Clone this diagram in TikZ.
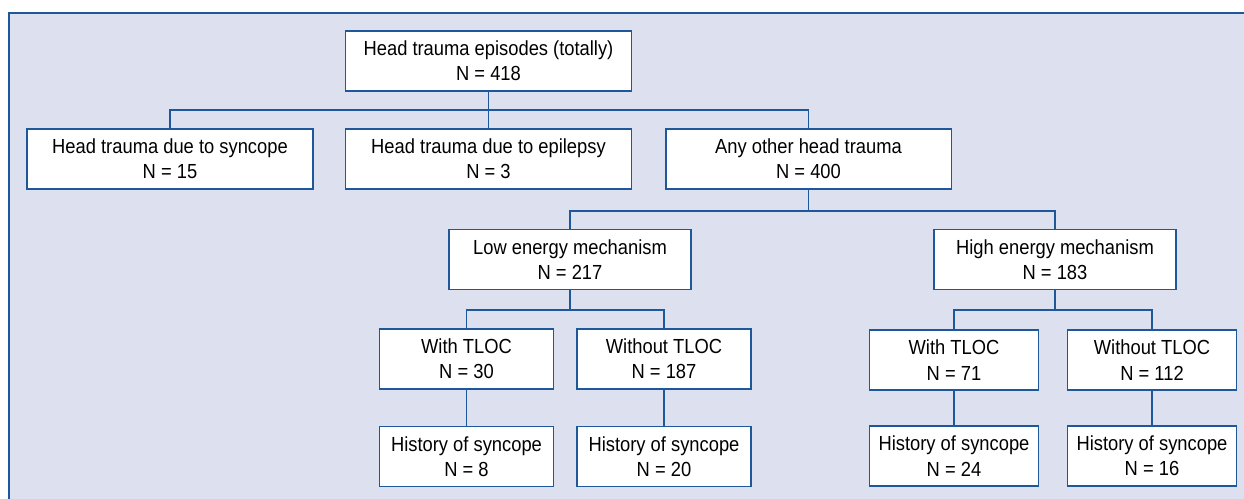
\documentclass[tikz,border=0pt]{standalone}
\usepackage{fontspec}
\setmainfont{Liberation Sans}[FakeStretch=0.9]
\usetikzlibrary{positioning, calc}
\definecolor{flowBlue}{RGB}{30, 88, 155}
\definecolor{flowPanel}{RGB}{221, 224, 239}

\begin{document}
\begin{tikzpicture}[
        x=0.02cm,
        y=-0.02cm,
        box/.style={draw=flowBlue, line width=1.1pt, fill=white, align=center, inner sep=0pt,
            minimum height=1.2cm, font=\fontsize{11.6}{14.4}\selectfont},
        widebox/.style={box, minimum width=5.72cm},
        midbox/.style={box, minimum width=4.84cm},
        smallbox/.style={box, minimum width=3.48cm},
        tinybox/.style={box, minimum width=3.38cm},
        link/.style={draw=flowBlue, line width=1.1pt}
    ]
        \useasboundingbox (0,0) rectangle (1244,499);
        \fill[flowPanel] (9,13) rectangle (1244,499);
        \draw[link] (9,499) -- (9,13) -- (1244,13);

        \node[widebox] (total) at (488.5,61) {Head trauma episodes (totally)\\N = 418};
        \node[widebox] (sync) at (170,159) {Head trauma due to syncope\\N = 15};
        \node[widebox] (epil) at (488.5,159) {Head trauma due to epilepsy\\N = 3};
        \node[widebox] (other) at (808.5,159) {Any other head trauma\\N = 400};

        \node[midbox] (low) at (570,259.5) {Low energy mechanism\\N = 217};
        \node[midbox] (high) at (1055,259.5) {High energy mechanism\\N = 183};

        \node[smallbox] (lowwith) at (466.5,359) {With TLOC\\N = 30};
        \node[smallbox] (lowwithout) at (664,359) {Without TLOC\\N = 187};
        \node[tinybox] (highwith) at (954,360) {With TLOC\\N = 71};
        \node[tinybox] (highwithout) at (1152,360) {Without TLOC\\N = 112};

        \node[smallbox] (lowwithhist) at (466.5,456.5) {History of syncope\\N = 8};
        \node[smallbox] (lowwithouthist) at (664,456.5) {History of syncope\\N = 20};
        \node[tinybox] (highwithhist) at (954,456) {History of syncope\\N = 24};
        \node[tinybox] (highwithouthist) at (1152,456) {History of syncope\\N = 16};

        % tree connectors
        \draw[link] (total.south) -- ++(0,18) coordinate (jtotal);
        \draw[link] (jtotal) -| (sync.north);
        \draw[link] (jtotal) -- (epil.north);
        \draw[link] (jtotal) -| (other.north);

        \draw[link] (other.south) -- ++(0,21) coordinate (jother);
        \draw[link] (jother) -| (low.north);
        \draw[link] (jother) -| (high.north);

        \draw[link] (low.south) -- ++(0,20) coordinate (jlow);
        \draw[link] (jlow) -| (lowwith.north);
        \draw[link] (jlow) -| (lowwithout.north);

        \draw[link] (high.south) -- ++(0,20) coordinate (jhigh);
        \draw[link] (jhigh) -| (highwith.north);
        \draw[link] (jhigh) -| (highwithout.north);

        \foreach \a/\b in {lowwith/lowwithhist, lowwithout/lowwithouthist, highwith/highwithhist, highwithout/highwithouthist} {
            \draw[link] (\a.south) -- (\b.north);
        }
    \end{tikzpicture}
\end{document}
